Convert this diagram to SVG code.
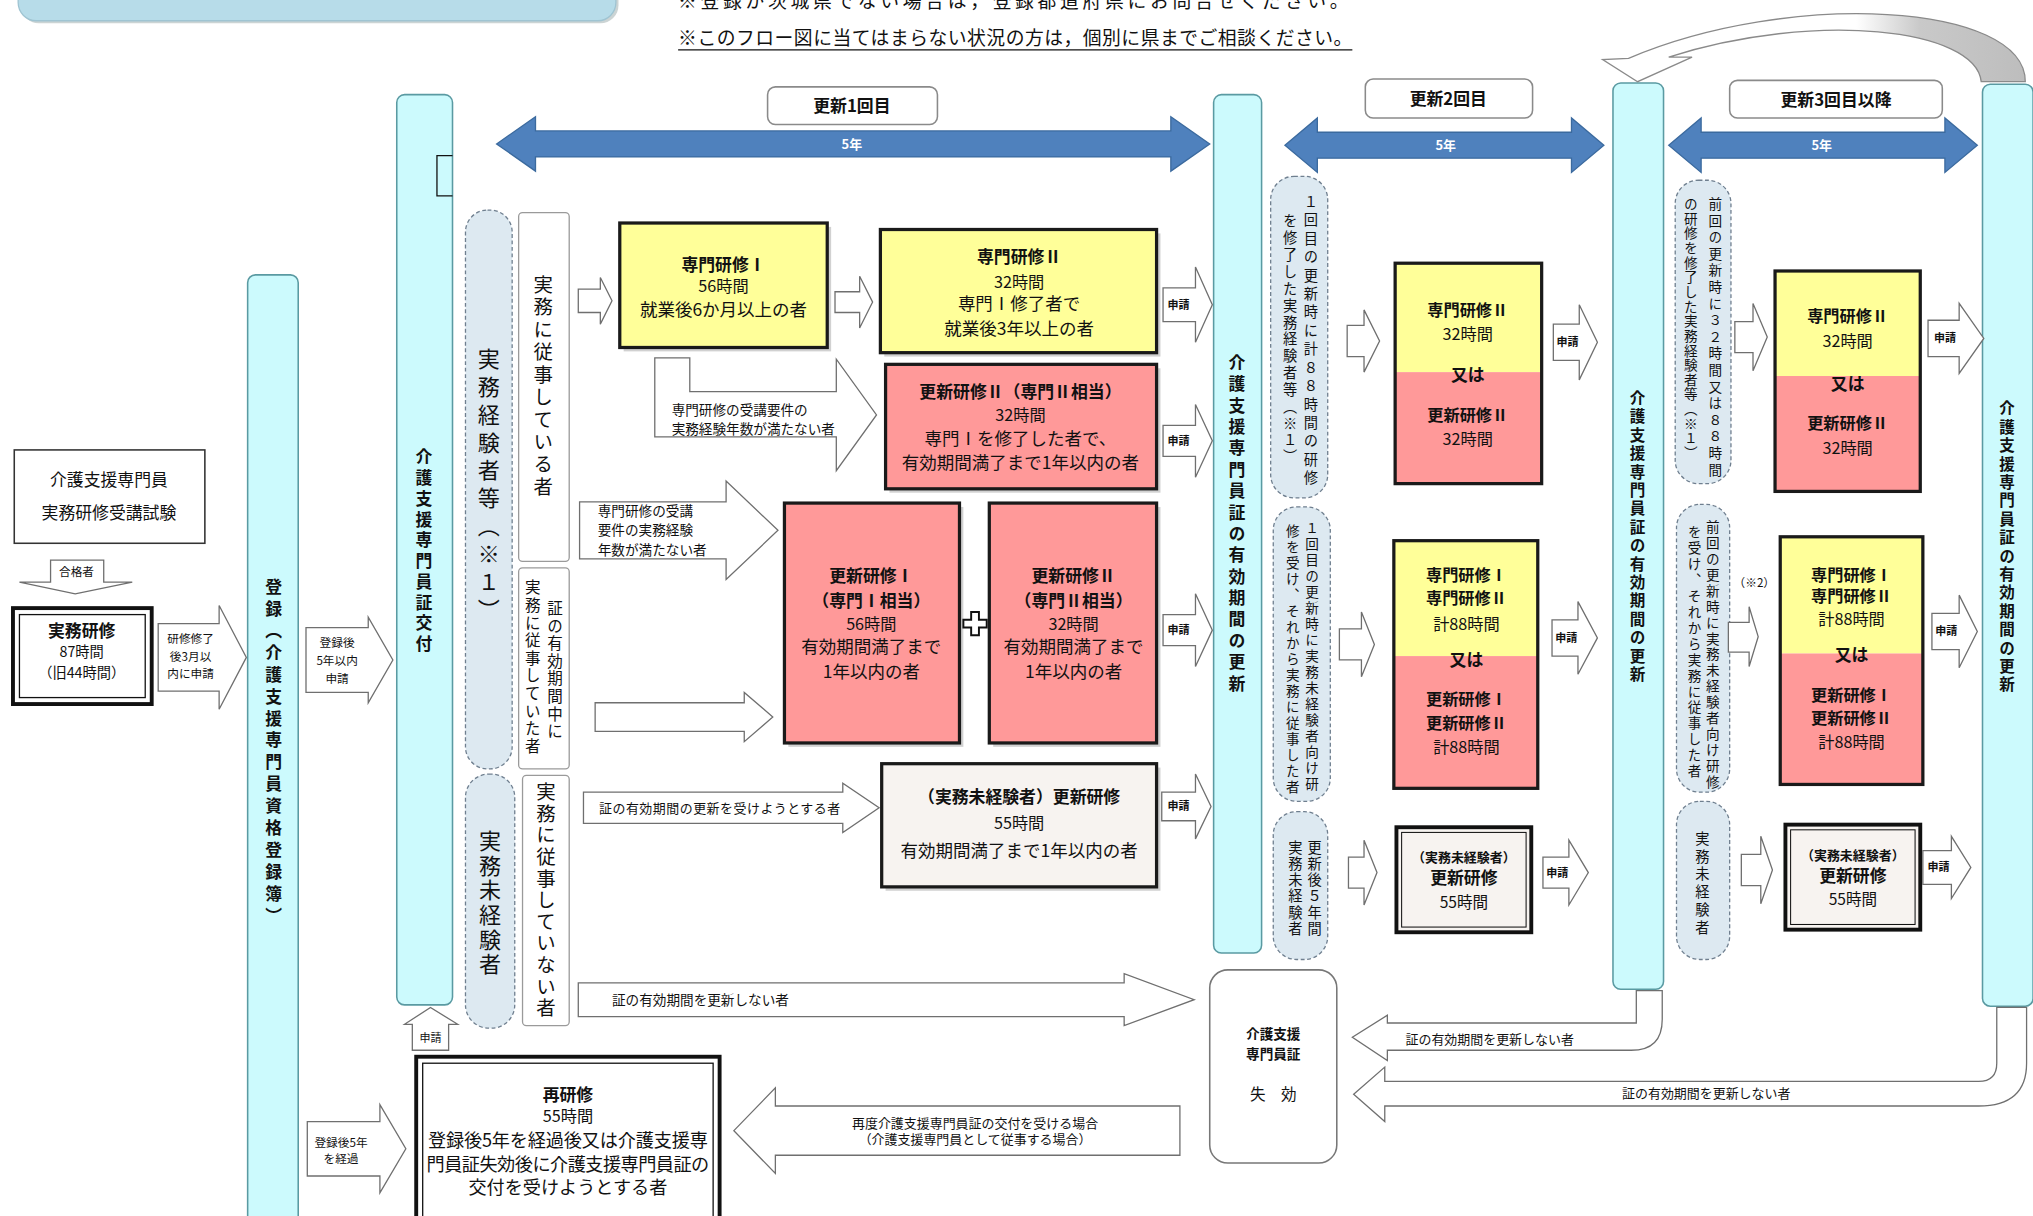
<svg xmlns="http://www.w3.org/2000/svg" width="2033" height="1216" viewBox="0 0 2033 1216">
<defs>
<style>
.t{font-family:"Noto Sans CJK JP","Noto Sans CJK SC",sans-serif;fill:#111}
.m{text-anchor:middle}
.b{font-weight:700}
.v{writing-mode:vertical-rl}
.w{fill:#fff}
.bar{fill:#ccfafd;stroke:#5a9aa2;stroke-width:1.2}
.dg{fill:#dde9f1;stroke:#6f7f8f;stroke-width:1;stroke-dasharray:3 2}
.wl{fill:#fff;stroke:#9a9a9a;stroke-width:1}
.arr{fill:#fff;stroke:#6f6f6f;stroke-width:1}
.blu{fill:#4f81bd;stroke:#3b6a9e;stroke-width:1}
.hd{fill:#fff;stroke:#8a8a8a;stroke-width:1.2}
.bx{stroke:#1a1a1a;stroke-width:2.5}
.sh{fill:#9a9a9a;opacity:.45}
.y{fill:#ffff99}.p{fill:#ff9999}.pl{fill:#f7f3f0}
</style>
<linearGradient id="cg" gradientUnits="userSpaceOnUse" x1="1236" y1="0" x2="1562" y2="0">
<stop offset="0" stop-color="#fff"/><stop offset="0.6" stop-color="#fff"/><stop offset="0.75" stop-color="#c9c9c9"/><stop offset="1" stop-color="#bdbdbd"/>
</linearGradient>
</defs>
<rect width="2033" height="1216" fill="#fff"/>
<g transform="scale(1.2966)">

<g id="title">
<rect x="16" y="-28" width="461" height="46" rx="14" fill="#9aa" opacity=".5"/>
<rect x="14" y="-30" width="461" height="46" rx="14" fill="#b7dce9" stroke="#9fc4d2"/>
</g>
<g id="notes">
<text class="t" x="523" y="6" font-size="14.5" textLength="517">※登録が茨城県でない場合は，登録都道府県にお問合せください。</text>
<text class="t" x="523" y="35" font-size="14.5" textLength="520">※このフロー図に当てはまらない状況の方は，個別に県までご相談ください。</text>
<line x1="523" y1="38.5" x2="1043" y2="38.5" stroke="#111" stroke-width="1"/>
</g>

<!-- bars -->
<g id="bar-touroku"><rect class="bar" x="191" y="212" width="39" height="740" rx="6"/>
<text class="t b v" x="211" y="446" font-size="13" letter-spacing="3.9">登録（介護支援専門員資格登録簿）</text></g>
<g id="bar-koufu"><rect class="bar" x="306" y="73" width="43" height="702" rx="6"/>
<path d="M349,120 H337 V151 H349" fill="none" stroke="#111" stroke-width="1"/>
<text class="t b v" x="327" y="346" font-size="13" letter-spacing="3">介護支援専門員証交付</text></g>
<g id="bar-koushin1"><rect class="bar" x="936" y="73" width="37" height="662" rx="6"/>
<text class="t b v" x="954" y="273" font-size="13" letter-spacing="3.5">介護支援専門員証の有効期間の更新</text></g>
<g id="bar-koushin2"><rect class="bar" x="1244" y="64" width="39" height="699" rx="6"/>
<text class="t b v" x="1263" y="301" font-size="12" letter-spacing="2.2">介護支援専門員証の有効期間の更新</text></g>
<g id="bar-koushin3"><rect class="bar" x="1529" y="65" width="39" height="711" rx="6"/>
<text class="t b v" x="1548" y="309" font-size="12" letter-spacing="2.2">介護支援専門員証の有効期間の更新</text></g>

<!-- headers -->
<g id="hdr1"><rect class="hd" x="592" y="67" width="131" height="29" rx="6"/><text class="t m b" x="657" y="86" font-size="13">更新1回目</text></g>
<g id="hdr2"><rect class="hd" x="1053" y="61" width="129" height="30" rx="6"/><text class="t m b" x="1117" y="81" font-size="13">更新2回目</text></g>
<g id="hdr3"><rect class="hd" x="1334" y="62" width="164" height="29" rx="6"/><text class="t m b" x="1416" y="82" font-size="13">更新3回目以降</text></g>

<!-- dashed groups -->
<g id="grp-keiken"><rect class="dg" x="359" y="162" width="36" height="431" rx="17"/>
<text class="t v" x="377" y="268" font-size="17" letter-spacing="4.5" fill="#333">実務経験者等（※１）</text></g>
<g id="grp-mikeiken"><rect class="dg" x="359" y="597" width="38" height="196" rx="18"/>
<text class="t v" x="378" y="640" font-size="17" letter-spacing="2" fill="#333">実務未経験者</text></g>
<g id="c2g1"><rect class="dg" x="980" y="136" width="44" height="248" rx="18"/>
<text class="t v" x="1011" y="150" font-size="11" letter-spacing="3.2">１回目の更新時に計８８時間の研修</text>
<text class="t v" x="995" y="165" font-size="11" letter-spacing="2">を修了した実務経験者等（※１）</text></g>
<g id="c2g2"><rect class="dg" x="982" y="391" width="44" height="227" rx="18"/>
<text class="t v" x="1012" y="402" font-size="10.5" letter-spacing="1.85">１回目の更新時に実務未経験者向け研</text>
<text class="t v" x="997" y="404" font-size="10.5" letter-spacing="1.85">修を受け、それから実務に従事した者</text></g>
<g id="c2g3"><rect class="dg" x="982" y="626" width="42" height="114" rx="18"/>
<text class="t v" x="1014" y="648" font-size="11" letter-spacing="1.5">更新後５年間</text>
<text class="t v" x="999" y="648" font-size="11" letter-spacing="1.5">実務未経験者</text></g>
<g id="c3g1"><rect class="dg" x="1292" y="139" width="43" height="234" rx="18"/>
<text class="t v" x="1323" y="152" font-size="10.5" letter-spacing="2.3">前回の更新時に３２時間又は８８時間</text>
<text class="t v" x="1304" y="152" font-size="10.5" letter-spacing="0.8">の研修を修了した実務経験者等（※１）</text></g>
<g id="c3g2"><rect class="dg" x="1293" y="389" width="41" height="222" rx="18"/>
<text class="t v" x="1321" y="401" font-size="10.5" letter-spacing="1.8">前回の更新時に実務未経験者向け研修</text>
<text class="t v" x="1307" y="405" font-size="10.5" letter-spacing="1.8">を受け、それから実務に従事した者</text></g>
<g id="c3g3"><rect class="dg" x="1293" y="618" width="41" height="122" rx="18"/>
<text class="t v" x="1313" y="641" font-size="11" letter-spacing="2.8">実務未経験者</text></g>

<!-- white labels -->
<g id="lbl-juji"><rect class="wl" x="400" y="164" width="39" height="269" rx="3"/>
<text class="t v" x="419" y="212" font-size="15" letter-spacing="2.3" fill="#333">実務に従事している者</text></g>
<g id="lbl-jujiita"><rect class="wl" x="400" y="438" width="39" height="155" rx="3"/>
<text class="t v" x="428" y="463" font-size="12" letter-spacing="1.6" fill="#333">証の有効期間中に</text>
<text class="t v" x="411" y="447" font-size="12" letter-spacing="1.6" fill="#333">実務に従事していた者</text></g>
<g id="lbl-jujinai"><rect class="wl" x="403" y="598" width="36" height="193" rx="3"/>
<text class="t v" x="421" y="603" font-size="15" letter-spacing="1.7" fill="#333">実務に従事していない者</text></g>

<!-- left nodes -->
<g id="exam"><rect x="11" y="347" width="147" height="72" fill="#fff" stroke="#333" stroke-width="1.2"/>
<text class="t m" x="84" y="375" font-size="13">介護支援専門員</text>
<text class="t m" x="84" y="400" font-size="13">実務研修受講試験</text></g>
<g id="jitsumu"><rect x="10" y="469" width="107" height="74" fill="#fff" stroke="#111" stroke-width="3"/>
<rect x="15" y="474" width="97" height="64" fill="none" stroke="#111" stroke-width="1"/>
<text class="t m b" x="63" y="491" font-size="13">実務研修</text>
<text class="t m" x="63" y="507" font-size="11">87時間</text>
<text class="t m" x="63" y="523" font-size="11">（旧44時間）</text></g>

<!-- column 1 training boxes -->
<g id="senmon1"><rect class="sh" x="481" y="175" width="160" height="96"/><rect class="y bx" x="478" y="172" width="160" height="96"/>
<text class="t m b" x="558" y="209" font-size="13">専門研修Ⅰ</text>
<text class="t m" x="558" y="225" font-size="12.5">56時間</text>
<text class="t m" x="558" y="244" font-size="13.5">就業後6か月以上の者</text></g>
<g id="senmon2"><rect class="sh" x="682" y="180" width="213" height="95"/><rect class="y bx" x="679" y="177" width="213" height="95"/>
<text class="t m b" x="786" y="203" font-size="13">専門研修Ⅱ</text>
<text class="t m" x="786" y="222" font-size="12.5">32時間</text>
<text class="t m" x="786" y="239" font-size="13.5">専門Ⅰ修了者で</text>
<text class="t m" x="786" y="258" font-size="13.5">就業後3年以上の者</text></g>
<g id="koushin2a"><rect class="sh" x="686" y="284" width="209" height="96"/><rect class="p bx" x="683" y="281" width="209" height="96"/>
<text class="t m b" x="787" y="307" font-size="13">更新研修Ⅱ（専門Ⅱ相当）</text>
<text class="t m" x="787" y="325" font-size="12.5">32時間</text>
<text class="t m" x="787" y="343" font-size="13.5">専門Ⅰを修了した者で、</text>
<text class="t m" x="787" y="362" font-size="13.5">有効期間満了まで1年以内の者</text></g>
<g id="koushin1b"><rect class="sh" x="608" y="391" width="135" height="185"/><rect class="p bx" x="605" y="388" width="135" height="185"/>
<text class="t m b" x="672" y="449" font-size="13">更新研修Ⅰ</text>
<text class="t m b" x="672" y="468" font-size="13">（専門Ⅰ相当）</text>
<text class="t m" x="672" y="486" font-size="12.5">56時間</text>
<text class="t m" x="672" y="504" font-size="13.5">有効期間満了まで</text>
<text class="t m" x="672" y="523" font-size="13.5">1年以内の者</text></g>
<g id="plus"><path d="M749,472 H755 V478 H761 V484 H755 V490 H749 V484 H743 V478 H749 Z" fill="#fff" stroke="#111" stroke-width="1.5"/></g>
<g id="koushin2b"><rect class="sh" x="766" y="391" width="129" height="185"/><rect class="p bx" x="763" y="388" width="129" height="185"/>
<text class="t m b" x="828" y="449" font-size="13">更新研修Ⅱ</text>
<text class="t m b" x="828" y="468" font-size="13">（専門Ⅱ相当）</text>
<text class="t m" x="828" y="486" font-size="12.5">32時間</text>
<text class="t m" x="828" y="504" font-size="13.5">有効期間満了まで</text>
<text class="t m" x="828" y="523" font-size="13.5">1年以内の者</text></g>
<g id="mikeiken1"><rect class="sh" x="683" y="592" width="212" height="95"/><rect class="pl bx" x="680" y="589" width="212" height="95"/>
<text class="t m b" x="786" y="619" font-size="13">（実務未経験者）更新研修</text>
<text class="t m" x="786" y="639" font-size="12.5">55時間</text>
<text class="t m" x="786" y="661" font-size="13.5">有効期間満了まで1年以内の者</text></g>
<g id="saikenshu"><rect x="321" y="815" width="234" height="130" fill="#fff" stroke="#111" stroke-width="3"/>
<rect x="326" y="820" width="224" height="125" fill="none" stroke="#111" stroke-width="1"/>
<text class="t m b" x="438" y="849" font-size="13">再研修</text>
<text class="t m" x="438" y="865" font-size="12.5">55時間</text>
<text class="t m" x="438" y="885" font-size="14" textLength="216">登録後5年を経過後又は介護支援専</text>
<text class="t m" x="438" y="903" font-size="14" textLength="218">門員証失効後に介護支援専門員証の</text>
<text class="t m" x="438" y="921" font-size="14">交付を受けようとする者</text></g>

<!-- column 2 boxes -->
<g id="c2b1"><rect class="y" x="1076" y="203" width="113" height="84"/><rect class="p" x="1076" y="287" width="113" height="86"/>
<rect class="bx" x="1076" y="203" width="113" height="170" fill="none"/>
<text class="t m b" x="1132" y="244" font-size="12.5">専門研修Ⅱ</text>
<text class="t m" x="1132" y="262" font-size="12.5">32時間</text>
<text class="t m b" x="1132" y="294" font-size="13">又は</text>
<text class="t m b" x="1132" y="325" font-size="12.5">更新研修Ⅱ</text>
<text class="t m" x="1132" y="343" font-size="12.5">32時間</text></g>
<g id="c2b2"><rect class="y" x="1075" y="417" width="111" height="89"/><rect class="p" x="1075" y="506" width="111" height="102"/>
<rect class="bx" x="1075" y="417" width="111" height="191" fill="none"/>
<text class="t m b" x="1131" y="448" font-size="12.5">専門研修Ⅰ</text>
<text class="t m b" x="1131" y="466" font-size="12.5">専門研修Ⅱ</text>
<text class="t m" x="1131" y="486" font-size="12.5">計88時間</text>
<text class="t m b" x="1131" y="514" font-size="13">又は</text>
<text class="t m b" x="1131" y="544" font-size="12.5">更新研修Ⅰ</text>
<text class="t m b" x="1131" y="562" font-size="12.5">更新研修Ⅱ</text>
<text class="t m" x="1131" y="581" font-size="12.5">計88時間</text></g>
<g id="c2b3"><rect class="pl" x="1077" y="638" width="104" height="81" stroke="#111" stroke-width="3"/>
<rect x="1081" y="642" width="96" height="73" fill="none" stroke="#111" stroke-width="0.8"/>
<text class="t m b" x="1129" y="665" font-size="10">（実務未経験者）</text>
<text class="t m b" x="1129" y="682" font-size="13">更新研修</text>
<text class="t m" x="1129" y="700" font-size="12">55時間</text></g>

<!-- column 3 boxes -->
<g id="c3b1"><rect class="y" x="1369" y="209" width="112" height="81"/><rect class="p" x="1369" y="290" width="112" height="89"/>
<rect class="bx" x="1369" y="209" width="112" height="170" fill="none"/>
<text class="t m b" x="1425" y="248" font-size="12.5">専門研修Ⅱ</text>
<text class="t m" x="1425" y="268" font-size="12.5">32時間</text>
<text class="t m b" x="1425" y="301" font-size="13">又は</text>
<text class="t m b" x="1425" y="331" font-size="12.5">更新研修Ⅱ</text>
<text class="t m" x="1425" y="350" font-size="12.5">32時間</text></g>
<g id="c3b2"><rect class="y" x="1373" y="414" width="110" height="90"/><rect class="p" x="1373" y="504" width="110" height="101"/>
<rect class="bx" x="1373" y="414" width="110" height="191" fill="none"/>
<text class="t m b" x="1428" y="448" font-size="12.5">専門研修Ⅰ</text>
<text class="t m b" x="1428" y="464" font-size="12.5">専門研修Ⅱ</text>
<text class="t m" x="1428" y="482" font-size="12.5">計88時間</text>
<text class="t m b" x="1428" y="510" font-size="13">又は</text>
<text class="t m b" x="1428" y="541" font-size="12.5">更新研修Ⅰ</text>
<text class="t m b" x="1428" y="558" font-size="12.5">更新研修Ⅱ</text>
<text class="t m" x="1428" y="577" font-size="12.5">計88時間</text></g>
<g id="c3b3"><rect class="pl" x="1377" y="636" width="104" height="81" stroke="#111" stroke-width="3"/>
<rect x="1381" y="640" width="96" height="73" fill="none" stroke="#111" stroke-width="0.8"/>
<text class="t m b" x="1429" y="663" font-size="10">（実務未経験者）</text>
<text class="t m b" x="1429" y="680" font-size="13">更新研修</text>
<text class="t m" x="1429" y="698" font-size="12">55時間</text></g>
<g id="note2"><text class="t m" x="1353" y="453" font-size="9">（※2）</text></g>

<g id="shikkou"><rect x="933" y="748" width="98" height="149" rx="14" fill="#fff" stroke="#777" stroke-width="1.2"/>
<text class="t m b" x="982" y="801" font-size="10.5">介護支援</text>
<text class="t m b" x="982" y="817" font-size="10.5">専門員証</text>
<text class="t m" x="982" y="848" font-size="12">失　効</text></g>

<!-- connectors -->
<g id="connectors">
<path class="blu" d="M383,111 L413,90 V101 H903 V90 L933,111 L903,132 V121 H413 V132 Z"/>
<path class="blu" d="M991,112 L1016,91 V102 H1212 V91 L1237,112 L1212,133 V122 H1016 V133 Z"/>
<path class="blu" d="M1287,112 L1312,91 V102 H1500 V91 L1525,112 L1500,133 V122 H1312 V133 Z"/>
<text class="t m b w" x="657" y="115" font-size="10" style="fill:#fff">5年</text>
<text class="t m b w" x="1115" y="116" font-size="10" style="fill:#fff">5年</text>
<text class="t m b w" x="1405" y="116" font-size="10" style="fill:#fff">5年</text>

<path d="M1528,63 C1524,22 1400,8 1287,44 L1305,44 L1263,63 L1236,46 L1256,45 C1380,-8 1562,2 1562,63 Z" fill="url(#cg)" stroke="#8a8a8a" stroke-width="1"/>

<path class="arr" d="M39,432 H80 V449 H102 L58,458 L15,449 H39 Z"/>
<text class="t m" x="59" y="444" font-size="9">合格者</text>

<path class="arr" d="M122,481 H169 V467 L190,507 L169,547 V533 H122 Z"/>
<text class="t m" x="147" y="496" font-size="9">研修修了</text>
<text class="t m" x="147" y="510" font-size="9">後3月以</text>
<text class="t m" x="147" y="523" font-size="9">内に申請</text>

<path class="arr" d="M236,484 H284 V476 L303,509 L284,542 V534 H236 Z"/>
<text class="t m" x="260" y="499" font-size="9">登録後</text>
<text class="t m" x="260" y="513" font-size="9">5年以内</text>
<text class="t m" x="260" y="527" font-size="9">申請</text>

<path class="arr" d="M237,865 H293 V852 L313,886 L293,920 V907 H237 Z"/>
<text class="t m" x="263" y="885" font-size="9">登録後5年</text>
<text class="t m" x="263" y="897" font-size="9">を経過</text>

<path class="arr" d="M318,810 V790 H312 L332,777 L353,790 H346 V810 Z"/>
<text class="t m" x="332" y="804" font-size="8.5">申請</text>

<path class="arr" d="M446,223 H463 V214 L472,232 L463,250 V241 H446 Z"/>
<path class="arr" d="M644,225 H663 V213 L673,233 L663,253 V241 H644 Z"/>

<path class="arr" d="M505,276 H532 V302 H645 V277 L676,320 L645,363 V337 H505 Z"/>
<text class="t" x="518" y="320" font-size="10.5">専門研修の受講要件の</text>
<text class="t" x="518" y="335" font-size="10.5">実務経験年数が満たない者</text>

<path class="arr" d="M447,387 H560 V371 L600,409 L560,447 V431 H447 Z"/>
<text class="t" x="461" y="398" font-size="10.5">専門研修の受講</text>
<text class="t" x="461" y="413" font-size="10.5">要件の実務経験</text>
<text class="t" x="461" y="428" font-size="10.5">年数が満たない者</text>

<path class="arr" d="M459,542 H574 V534 L596,553 L574,572 V564 H459 Z"/>

<path class="arr" d="M450,611 H650 V604 L678,623 L650,642 V635 H450 Z"/>
<text class="t" x="462" y="627" font-size="10" textLength="186">証の有効期間の更新を受けようとする者</text>

<path class="arr" d="M446,758 H867 V751 L921,771 L867,791 V784 H446 Z"/>
<text class="t" x="472" y="775" font-size="10.5">証の有効期間を更新しない者</text>

<path class="arr" d="M897,222 H922 V206 L935,235 L922,264 V248 H897 Z"/>
<path class="arr" d="M897,328 H922 V312 L935,340 L922,368 V352 H897 Z"/>
<path class="arr" d="M897,474 H922 V458 L935,486 L922,514 V498 H897 Z"/>
<path class="arr" d="M896,611 H922 V597 L934,622 L922,647 V633 H896 Z"/>
<text class="t m b" x="909" y="238" font-size="8.5">申請</text>
<text class="t m b" x="909" y="343" font-size="8.5">申請</text>
<text class="t m b" x="909" y="489" font-size="8.5">申請</text>
<text class="t m b" x="909" y="625" font-size="8.5">申請</text>

<path class="arr" d="M1039,251 H1052 V239 L1064,263 L1052,287 V275 H1039 Z"/>
<path class="arr" d="M1033,485 H1050 V472 L1060,497 L1050,522 V509 H1033 Z"/>
<path class="arr" d="M1040,661 H1052 V648 L1062,673 L1052,698 V685 H1040 Z"/>

<path class="arr" d="M1198,250 H1218 V235 L1232,264 L1218,293 V278 H1198 Z"/>
<path class="arr" d="M1197,478 H1217 V464 L1232,492 L1217,520 V506 H1197 Z"/>
<path class="arr" d="M1190,661 H1210 V648 L1225,673 L1210,698 V685 H1190 Z"/>
<text class="t m b" x="1209" y="267" font-size="8.5">申請</text>
<text class="t m b" x="1208" y="495" font-size="8.5">申請</text>
<text class="t m b" x="1201" y="676" font-size="8.5">申請</text>

<path class="arr" d="M1338,248 H1352 V234 L1363,260 L1352,286 V272 H1338 Z"/>
<path class="arr" d="M1333,480 H1349 V468 L1356,491 L1349,514 V503 H1333 Z"/>
<path class="arr" d="M1343,659 H1358 V645 L1367,671 L1358,697 V683 H1343 Z"/>

<path class="arr" d="M1487,247 H1511 V234 L1530,261 L1511,288 V275 H1487 Z"/>
<path class="arr" d="M1490,473 H1511 V459 L1525,487 L1511,515 V501 H1490 Z"/>
<path class="arr" d="M1483,656 H1505 V645 L1520,669 L1505,693 V682 H1483 Z"/>
<text class="t m b" x="1500" y="264" font-size="8.5">申請</text>
<text class="t m b" x="1501" y="490" font-size="8.5">申請</text>
<text class="t m b" x="1495" y="672" font-size="8.5">申請</text>

<path class="arr" d="M910,853 H598 V839 L566,872 L598,905 V891 H910 Z"/>
<text class="t m" x="752" y="870" font-size="10">再度介護支援専門員証の交付を受ける場合</text>
<text class="t m" x="752" y="882" font-size="10">（介護支援専門員として従事する場合）</text>

<path class="arr" d="M1262,764 V789 H1070 V783 L1043,800 L1070,818 V810 H1258 Q1282,810 1282,786 V764 Z"/>
<text class="t" x="1084" y="805" font-size="10">証の有効期間を更新しない者</text>

<path class="arr" d="M1540,777 V820 Q1540,834 1526,834 H1068 V823 L1044,844 L1068,865 V853 H1526 Q1563,853 1563,820 V777 Z"/>
<text class="t" x="1251" y="847" font-size="10">証の有効期間を更新しない者</text>
</g>
</g>
</svg>
